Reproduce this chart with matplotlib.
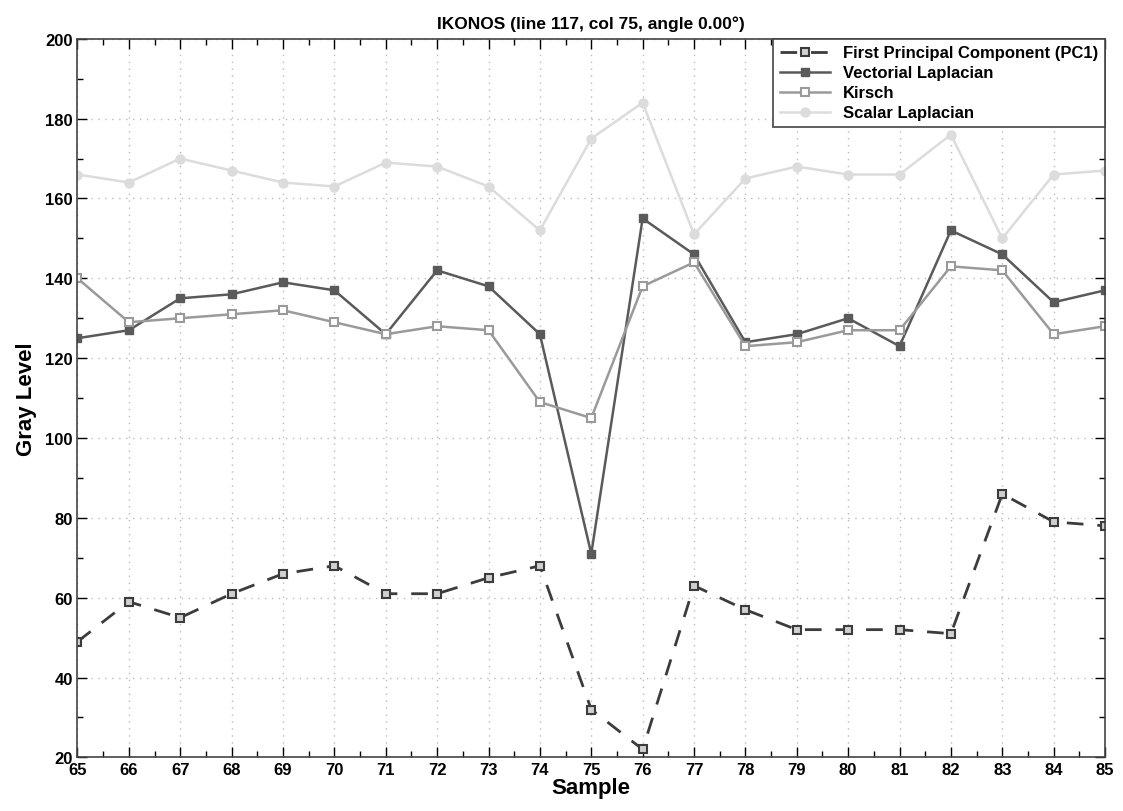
import numpy as np
import matplotlib.pyplot as plt
from matplotlib.ticker import MultipleLocator

plt.rcParams['font.family'] = ['Liberation Sans', 'DejaVu Sans']
plt.rcParams['font.weight'] = 'bold'

# data
samples = list(range(65, 86))
pc1 = [49, 59, 55, 61, 66, 68, 61, 61, 65, 68, 32, 22, 63, 57, 52, 52, 52, 51, 86, 79, 78]
vectorial = [125, 127, 135, 136, 139, 137, 126, 142, 138, 126, 71, 155, 146, 124, 126, 130, 123, 152, 146, 134, 137]
kirsch = [140, 129, 130, 131, 132, 129, 126, 128, 127, 109, 105, 138, 144, 123, 124, 127, 127, 143, 142, 126, 128]
scalar = [166, 164, 170, 167, 164, 163, 169, 168, 163, 152, 175, 184, 151, 165, 168, 166, 166, 176, 150, 166, 167]

fig = plt.figure(figsize=(11.23, 8.12), dpi=100)
ax = fig.add_axes([0.069, 0.066, 0.915, 0.885])

ax.plot(samples, pc1, color='#3c3c3c', linestyle=(0, (6, 5)), linewidth=2,
        marker='s', markersize=6, markerfacecolor='#d0d0d0', markeredgecolor='#3c3c3c',
        markeredgewidth=1.5, label='First Principal Component (PC1)')
ax.plot(samples, vectorial, color='#5a5a5a', linewidth=1.8,
        marker='s', markersize=6, markerfacecolor='#5a5a5a', markeredgecolor='#5a5a5a',
        label='Vectorial Laplacian')
ax.plot(samples, kirsch, color='#9a9a9a', linewidth=1.8,
        marker='s', markersize=6, markerfacecolor='white', markeredgecolor='#9a9a9a',
        markeredgewidth=1.5, label='Kirsch')
ax.plot(samples, scalar, color='#dcdcdc', linewidth=1.8,
        marker='o', markersize=6.5, markerfacecolor='#dcdcdc', markeredgecolor='#dcdcdc',
        label='Scalar Laplacian')

ax.set_xlim(65, 85)
ax.set_ylim(20, 200)
ax.xaxis.set_major_locator(MultipleLocator(1))
ax.xaxis.set_minor_locator(MultipleLocator(0.5))
ax.yaxis.set_major_locator(MultipleLocator(20))
ax.yaxis.set_minor_locator(MultipleLocator(10))
ax.tick_params(which='both', direction='in', top=True, right=True, labelsize=12)
ax.tick_params(which='major', length=7, width=1)
ax.tick_params(which='minor', length=4, width=1)
ax.tick_params(axis='x', pad=3)
ax.grid(True, which='major', color='#bbbbbb', linestyle=(0, (1, 4)), linewidth=1)
for s in ax.spines.values():
    s.set_color('#444444')
    s.set_linewidth(1.2)

ax.set_xlabel('Sample', fontsize=16, fontweight='bold', labelpad=0)
ax.set_ylabel('Gray Level', fontsize=16, fontweight='bold', labelpad=6)
ax.set_title('IKONOS (line 117, col 75, angle 0.00°)', fontsize=12.5, fontweight='bold', pad=8)

leg = ax.legend(loc='upper right', fontsize=12, frameon=True, fancybox=False,
                borderaxespad=0, handlelength=3, labelspacing=0.3, borderpad=0.4)
leg.get_frame().set_edgecolor('#444444')
leg.get_frame().set_linewidth(1.2)
leg.get_frame().set_alpha(1)

fig.savefig('out.png', dpi=100)
